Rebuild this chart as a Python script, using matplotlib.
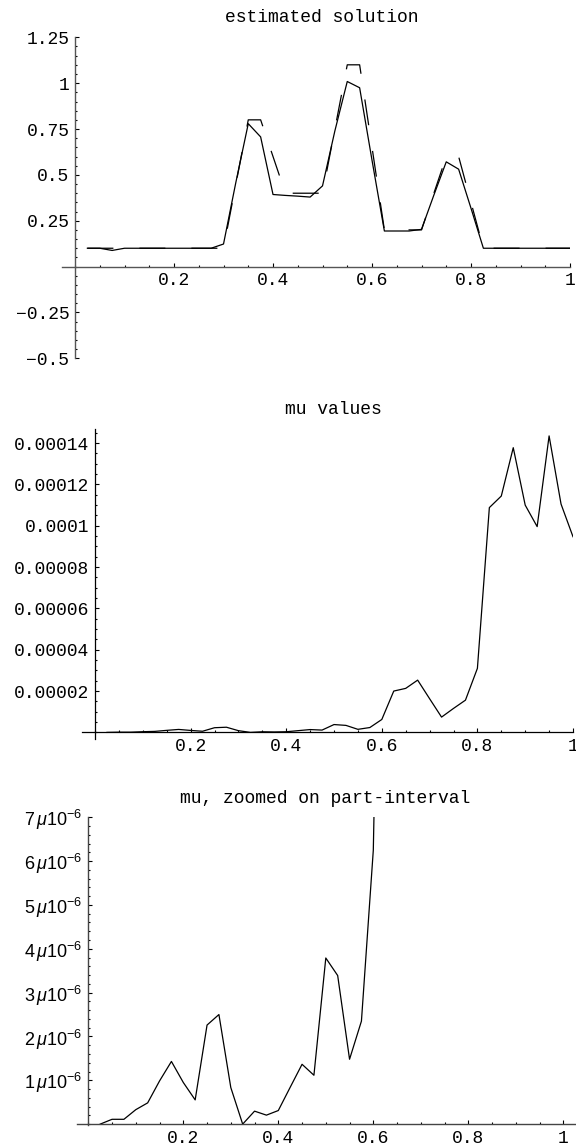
import matplotlib
matplotlib.use('Agg')
import matplotlib.pyplot as plt
from matplotlib.ticker import MultipleLocator

plt.rcParams['lines.scale_dashes'] = False
plt.rcParams['mathtext.fontset'] = 'custom'
plt.rcParams['mathtext.rm'] = 'Liberation Sans'
plt.rcParams['mathtext.it'] = 'Liberation Sans:italic'
plt.rcParams['mathtext.bf'] = 'Liberation Sans:bold'

# ---------------- data ----------------
x_grid = [0.025, 0.05, 0.075, 0.1, 0.125, 0.15, 0.175, 0.2, 0.225, 0.25,
          0.275, 0.3, 0.325, 0.35, 0.375, 0.4, 0.425, 0.45, 0.475, 0.5,
          0.525, 0.55, 0.575, 0.6, 0.625, 0.65, 0.675, 0.7, 0.725, 0.75,
          0.775, 0.8, 0.825, 0.85, 0.875, 0.9, 0.925, 0.95, 0.975, 1.0]

estimated = [0.1, 0.1, 0.088, 0.1, 0.1, 0.1, 0.1, 0.1, 0.1, 0.1,
             0.1, 0.123, 0.46, 0.779, 0.707, 0.393, 0.388, 0.384, 0.379, 0.44,
             0.74, 1.009, 0.975, 0.58, 0.194, 0.194, 0.194, 0.203, 0.39, 0.571,
             0.531, 0.318, 0.1, 0.1, 0.1, 0.1, 0.1, 0.1, 0.1, 0.1]

true_solution = [0.1, 0.1, 0.1, 0.1, 0.1, 0.1, 0.1, 0.1, 0.1, 0.1,
                 0.1, 0.1, 0.45, 0.8, 0.8, 0.6, 0.4, 0.4, 0.4, 0.4,
                 0.75, 1.1, 1.1, 0.65, 0.2, 0.2, 0.2, 0.2, 0.4, 0.6,
                 0.6, 0.35, 0.1, 0.1, 0.1, 0.1, 0.1, 0.1, 0.1, 0.1]

mu = [0.0, 0.11e-6, 0.11e-6, 0.33e-6, 0.485e-6, 0.985e-6, 1.43e-6, 0.95e-6, 0.553e-6, 2.26e-6,
      2.5e-6, 0.835e-6, 0.0, 0.296e-6, 0.205e-6, 0.31e-6, 0.84e-6, 1.365e-6, 1.115e-6, 3.79e-6,
      3.39e-6, 1.48e-6, 2.35e-6, 6.25e-6, 2.0e-5, 2.13e-5, 2.53e-5, 1.63e-5, 7.4e-6, 1.16e-5,
      1.56e-5, 3.1e-5, 1.088e-4, 1.144e-4, 1.378e-4, 1.10e-4, 9.96e-5, 1.435e-4, 1.105e-4, 9.47e-5]

titles = ["estimated solution", "mu values", "mu, zoomed on part-interval"]

x_ticks = [0.2, 0.4, 0.6, 0.8, 1.0]
x_tick_labels = ["0.2", "0.4", "0.6", "0.8", "1"]

y1_ticks = [-0.5, -0.25, 0.25, 0.5, 0.75, 1.0, 1.25]
y1_tick_labels = ["\u22120.5", "\u22120.25", "0.25", "0.5", "0.75", "1", "1.25"]

y2_ticks = [2e-5, 4e-5, 6e-5, 8e-5, 1e-4, 1.2e-4, 1.4e-4]
y2_tick_labels = ["0.00002", "0.00004", "0.00006", "0.00008", "0.0001", "0.00012", "0.00014"]

y3_ticks = [1e-6, 2e-6, 3e-6, 4e-6, 5e-6, 6e-6, 7e-6]
y3_tick_labels = [r"%d$\,\mu$10$^{-6}$" % d for d in [1, 2, 3, 4, 5, 6, 7]]

# ---------------- figure ----------------
W, H = 576, 1147
fig = plt.figure(figsize=(W / 100, H / 100), dpi=100)

MONO = ['Liberation Mono', 'DejaVu Sans Mono']
FS = 13


def px_axes(x0, x1, ytop, ybot):
    return fig.add_axes([x0 / W, 1 - ybot / H, (x1 - x0) / W, (ybot - ytop) / H])


def style(ax, xlim, ylim, yt, ytl, xminor, yminor, spine_color, spine_lw,
          yfont, yfs, ypad):
    ax.set_xlim(*xlim)
    ax.set_ylim(*ylim)
    ax.patch.set_visible(False)
    for s in ['top', 'right']:
        ax.spines[s].set_visible(False)
    for s in ['left', 'bottom']:
        ax.spines[s].set_position(('data', 0))
        ax.spines[s].set_color(spine_color)
        ax.spines[s].set_linewidth(spine_lw)
    ax.set_xticks(x_ticks, x_tick_labels)
    ax.set_yticks(yt, ytl)
    ax.xaxis.set_minor_locator(MultipleLocator(xminor))
    ax.yaxis.set_minor_locator(MultipleLocator(yminor))
    ax.tick_params(which='both', direction='in', color='black', width=0.8)
    ax.tick_params(which='major', length=3.0)
    ax.tick_params(which='minor', length=1.6)
    ax.tick_params(axis='x', which='major', pad=4.0)
    ax.tick_params(axis='y', which='major', pad=ypad)
    for lab in ax.get_xticklabels():
        lab.set_fontfamily(MONO)
        lab.set_fontsize(FS)
    for lab in ax.get_yticklabels():
        lab.set_fontfamily(yfont)
        lab.set_fontsize(yfs)


# Panel 1: estimated solution
ax1 = px_axes(62.3, 570.0, 37.3, 358.3)
style(ax1, (-0.0257, 1.0), (-0.5, 1.25), y1_ticks, y1_tick_labels,
      0.05, 0.05, '#555555', 1.0, MONO, FS, 4.0)
ax1.plot(x_grid, true_solution, color='black', lw=0.9,
         linestyle=(0, (18.72, 18.72)), dash_capstyle='butt')
ax1.plot(x_grid, estimated, color='black', lw=0.9)
fig.text(322 / W, 1 - 17.3 / H, titles[0], ha='center', va='center',
         fontfamily=MONO, fontsize=FS)

# Panel 2: mu values
ax2 = px_axes(82.3, 573.0, 429.3, 739.0)
style(ax2, (-0.0266, 1.0), (-3.2e-6, 1.467e-4), y2_ticks, y2_tick_labels,
      0.05, 5e-6, 'black', 0.9, MONO, FS, 4.0)
ax2.plot(x_grid, mu, color='black', lw=0.9)
fig.text(333 / W, 1 - 409.3 / H, titles[1], ha='center', va='center',
         fontfamily=MONO, fontsize=FS)

# Panel 3: mu zoomed
ax3 = px_axes(76.7, 575.0, 817.3, 1125.0)
style(ax3, (-0.0244, 1.0246), (-0.02e-6, 7e-6), y3_ticks, y3_tick_labels,
      0.05, 2e-7, '#444444', 1.0, ['Liberation Sans', 'DejaVu Sans'], 13, 4.0)
ax3.plot(x_grid, mu, color='black', lw=0.9)
fig.text(325 / W, 1 - 798.3 / H, titles[2], ha='center', va='center',
         fontfamily=MONO, fontsize=FS)

fig.savefig('out.png', dpi=100)
